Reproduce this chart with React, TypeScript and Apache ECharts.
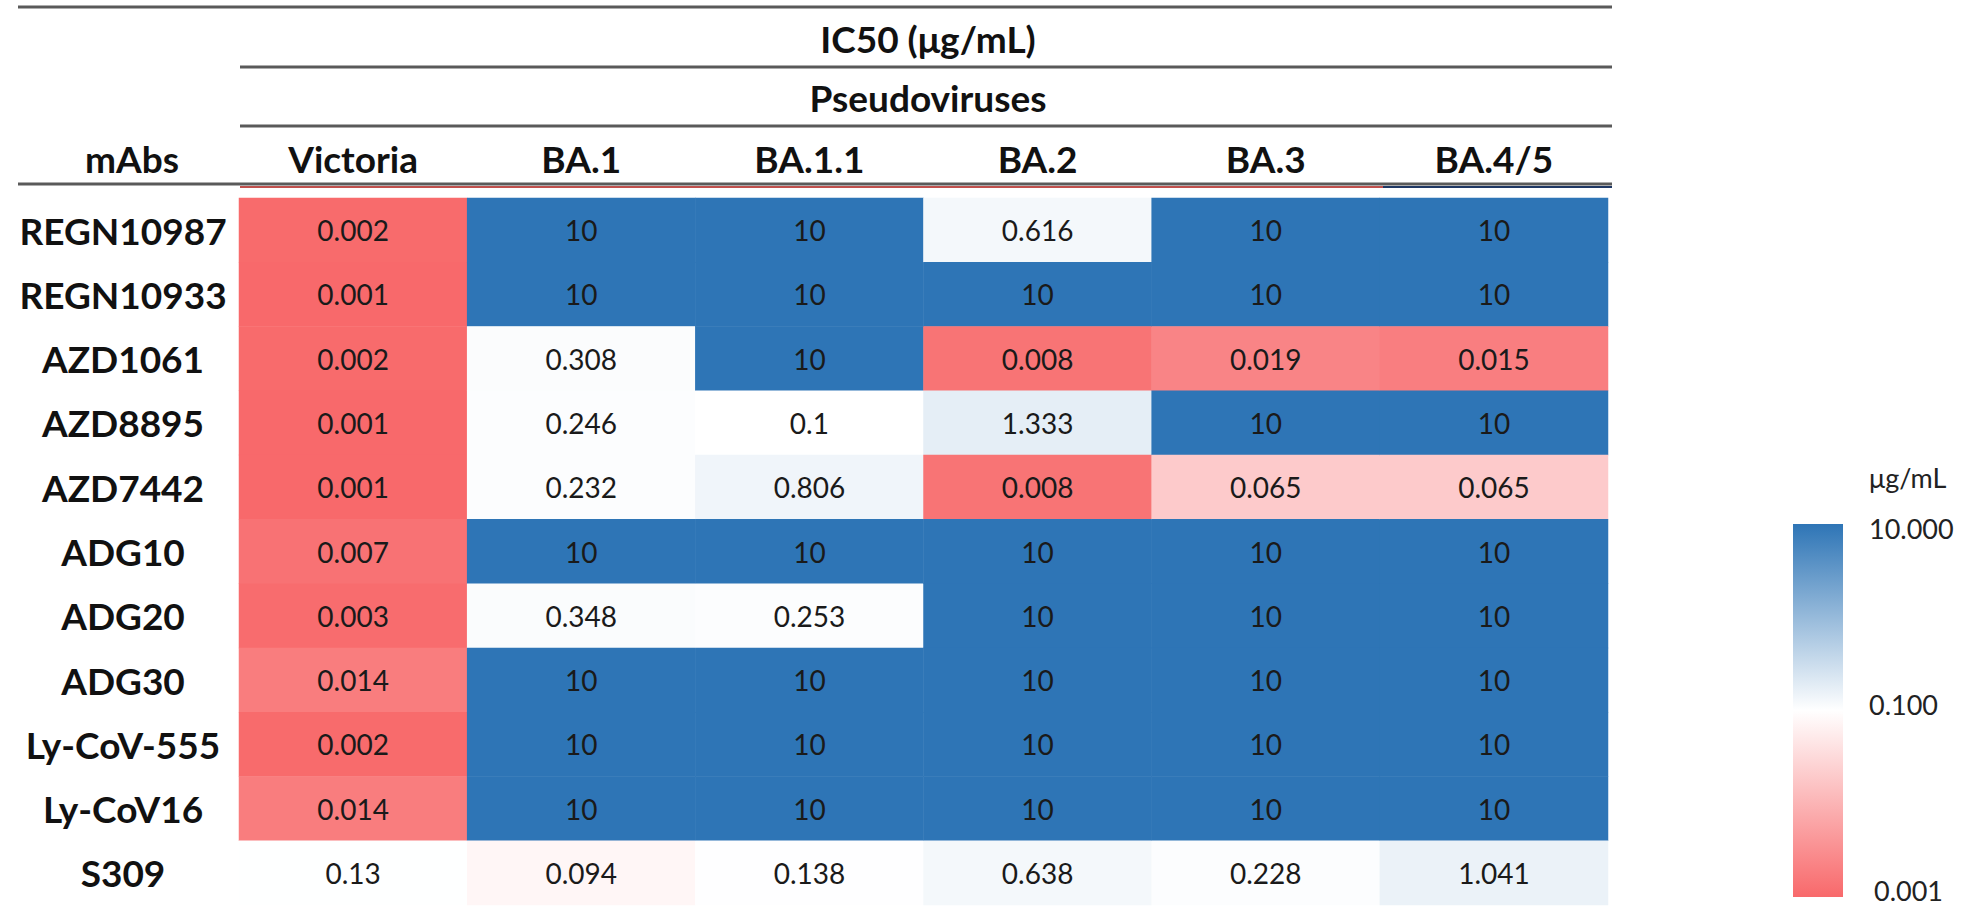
import React, { useEffect, useRef } from "react";
import * as echarts from "echarts";

const rows = ["REGN10987", "REGN10933", "AZD1061", "AZD8895", "AZD7442", "ADG10", "ADG20", "ADG30", "Ly-CoV-555", "Ly-CoV16", "S309"];
const cols = ["Victoria", "BA.1", "BA.1.1", "BA.2", "BA.3", "BA.4/5"];

const victoria = [0.002, 0.001, 0.002, 0.001, 0.001, 0.007, 0.003, 0.014, 0.002, 0.014, 0.13];
const ba1 = [10, 10, 0.308, 0.246, 0.232, 10, 0.348, 10, 10, 10, 0.094];
const ba11 = [10, 10, 10, 0.1, 0.806, 10, 0.253, 10, 10, 10, 0.138];
const ba2 = [0.616, 10, 0.008, 1.333, 0.008, 10, 10, 10, 10, 10, 0.638];
const ba3 = [10, 10, 0.019, 10, 0.065, 10, 10, 10, 10, 10, 0.228];
const ba45 = [10, 10, 0.015, 10, 0.065, 10, 10, 10, 10, 10, 1.041];

const scaleTicks = ["10.000", "0.100", "0.001"];
const scaleMin = 0.001;
const scaleMid = 0.1;
const scaleMax = 10;

const RED = "#F8696B";
const WHITE = "#FFFFFF";
const BLUE = "#2E75B6";

// Excel-style 3-colour scale: linear min->mid, linear mid->max
function score(v: number): number {
  if (v <= scaleMid) return (0.5 * (v - scaleMin)) / (scaleMid - scaleMin);
  return 0.5 + (0.5 * (v - scaleMid)) / (scaleMax - scaleMid);
}

export default function App() {
  const ref = useRef<HTMLDivElement>(null);
  useEffect(() => {
    if (!ref.current) return;
    const chart = echarts.init(ref.current, null, { renderer: "svg" });
    const columns = [victoria, ba1, ba11, ba2, ba3, ba45];
    const data: any[] = [];
    columns.forEach((col, ci) => {
      col.forEach((v, ri) => {
        data.push([ci, ri, Math.max(0, Math.min(1, score(v))), v]);
      });
    });

    const L = 18, L2 = 240, R = 1612;
    const lineStyle = { stroke: "#5a5a5a", lineWidth: 3 };
    const headFont = { fontFamily: "Lato", fontWeight: "bold", fontSize: 37, fill: "#111" };
    const legFont = { fontFamily: "Lato", fontSize: 27, fill: "#222" };

    const legX = 1793, legTop = 524, legW = 50, legH = 373, legLabelX = 1869;

    const option: any = {
      animation: false,
      backgroundColor: "#fff",
      grid: { left: 239, top: 198, width: 1369, height: 707 },
      xAxis: {
        type: "category",
        data: cols,
        position: "top",
        axisLine: { show: false },
        axisTick: { show: false },
        splitLine: { show: false },
        axisLabel: {
          fontFamily: "Lato",
          fontWeight: "bold",
          fontSize: 37,
          color: "#111",
          margin: 40,
          verticalAlign: "middle",
        },
      },
      yAxis: {
        type: "category",
        data: rows,
        inverse: true,
        axisLine: { show: false },
        axisTick: { show: false },
        splitLine: { show: false },
        axisLabel: {
          fontFamily: "Lato",
          fontWeight: "bold",
          fontSize: 37,
          color: "#111",
          align: "center",
          margin: 116,
        },
      },
      visualMap: {
        show: false,
        type: "continuous",
        dimension: 2,
        min: 0,
        max: 1,
        seriesIndex: 0,
        inRange: { color: [RED, WHITE, BLUE] },
      },
      series: [
        {
          type: "heatmap",
          data,
          itemStyle: { borderWidth: 0 },
          emphasis: { disabled: true },
          label: {
            show: true,
            formatter: (p: any) => String(p.value[3]),
            fontFamily: "Lato",
            fontSize: 28,
            color: "#1a1a1a",
          },
        },
      ],
      graphic: [
        { type: "line", shape: { x1: L, y1: 7, x2: R, y2: 7 }, style: lineStyle },
        { type: "line", shape: { x1: L2, y1: 67, x2: R, y2: 67 }, style: lineStyle },
        { type: "line", shape: { x1: L2, y1: 126, x2: R, y2: 126 }, style: lineStyle },
        { type: "line", shape: { x1: L, y1: 184, x2: R, y2: 184 }, style: lineStyle },
        { type: "line", shape: { x1: L2, y1: 187, x2: 1383, y2: 187 }, style: { stroke: "#C0504D", lineWidth: 2 } },
        { type: "line", shape: { x1: 1383, y1: 187, x2: R, y2: 187 }, style: { stroke: "#1F3864", lineWidth: 2 } },
        {
          type: "text",
          x: 928,
          y: 38,
          style: { text: "IC50 (μg/mL)", ...headFont, textAlign: "center", textVerticalAlign: "middle" },
        },
        {
          type: "text",
          x: 928,
          y: 97,
          style: { text: "Pseudoviruses", ...headFont, textAlign: "center", textVerticalAlign: "middle" },
        },
        {
          type: "text",
          x: 132,
          y: 158,
          style: { text: "mAbs", ...headFont, textAlign: "center", textVerticalAlign: "middle" },
        },
        {
          type: "rect",
          shape: { x: legX, y: legTop, width: legW, height: legH },
          style: {
            fill: new echarts.graphic.LinearGradient(0, 0, 0, 1, [
              { offset: 0, color: BLUE },
              { offset: 0.5, color: WHITE },
              { offset: 1, color: RED },
            ]),
          },
        },
        { type: "text", x: legLabelX, y: 477, style: { text: "μg/mL", ...legFont, textVerticalAlign: "middle" } },
        { type: "text", x: legLabelX, y: 528, style: { text: scaleTicks[0], ...legFont, textVerticalAlign: "middle" } },
        { type: "text", x: legLabelX, y: 704, style: { text: scaleTicks[1], ...legFont, textVerticalAlign: "middle" } },
        { type: "text", x: legLabelX + 5, y: 890, style: { text: scaleTicks[2], ...legFont, textVerticalAlign: "middle" } },
      ],
    };
    chart.setOption(option);
    return () => chart.dispose();
  }, []);
  return (
    <div
      ref={ref}
      style={{ position: "fixed", left: 0, top: 0, width: 1985, height: 907 }}
    />
  );
}
